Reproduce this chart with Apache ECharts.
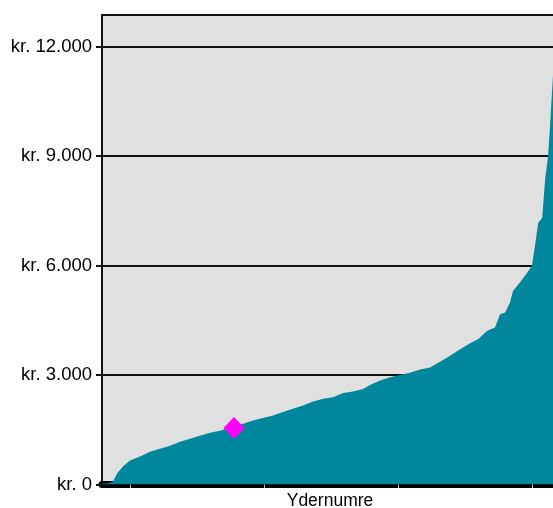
<!DOCTYPE html>
<html>
<head>
<meta charset="utf-8">
<script src="https://cdn.jsdelivr.net/npm/echarts@6/dist/echarts.min.js"></script>
<style>html,body{margin:0;padding:0;background:#fff}#c{width:553px;height:508px}</style>
</head>
<body>
<div id="c"></div>
<script>
// Rank of member (sorted), and amount in kr.
var ranks = [0, 3, 4.1, 5.6, 7.8, 10.4, 14.2, 17.9, 21.6, 25.4, 29.1, 32.8, 36.5, 40.3, 44.0, 47.7,
  52.6, 56.3, 60.0, 63.8, 67.5, 71.2, 74.9, 78.7, 82.4, 86.1, 89.9, 93.6, 97.3, 99.9,
  103.7, 107.4, 111.1, 114.8, 118.6, 122.3, 126.0, 129.8, 133.5, 137.2, 140.2, 143.5,
  146.5, 148.4, 150.3, 152.1, 153.2, 155.8, 158.5, 160.3, 161.4, 162.6, 164.1, 165.2,
  166.3, 167.0, 168.2, 170];
var amounts = [20, 40, 80, 300, 490, 655, 765, 900, 980, 1065, 1170, 1255, 1335, 1420, 1475, 1560,
  1665, 1755, 1820, 1890, 1985, 2075, 2165, 2275, 2350, 2395, 2505, 2550, 2620, 2730,
  2850, 2940, 3000, 3060, 3150, 3210, 3365, 3530, 3710, 3870, 3985, 4210,
  4305, 4670, 4715, 4990, 5305, 5535, 5805, 6005, 6535, 7170, 7315, 8355,
  9000, 9800, 11300, 12500];
var markerRanks = [49.2];
var markerAmounts = [1550];
var yTicks = [0, 3000, 6000, 9000, 12000];
var xTicks = [10.5, 60.5, 110.5, 160.5];
var xName = 'Ydernumre';

function fmt(v) {
  var s = String(Math.round(v));
  return 'kr. ' + s.replace(/\B(?=(\d{3})+(?!\d))/g, '.');
}
var lineData = ranks.map(function (r, i) { return [r, amounts[i]]; });
var markerData = markerRanks.map(function (r, i) { return [r, markerAmounts[i]]; });

var chart = echarts.init(document.getElementById('c'), null, {renderer: 'canvas'});
chart.setOption({
  animation: false,
  grid: {left: 102, top: 15, right: -5, bottom: 23.5, show: true,
    outerBoundsMode: 'none', containLabel: false,
    backgroundColor: '#e0e0e0', borderColor: '#111', borderWidth: 2},
  xAxis: {
    type: 'value', min: 0, max: 170,
    offset: 3.5,
    name: xName, nameLocation: 'middle', nameGap: 4,
    nameTextStyle: {fontFamily: 'Liberation Sans', fontSize: 17.5, color: '#000'},
    axisLine: {show: true, lineStyle: {color: '#000', width: 7}},
    axisTick: {show: true, customValues: xTicks, length: 3.5, lineStyle: {color: '#bbb', width: 1}},
    axisLabel: {show: false},
    splitLine: {show: false}
  },
  yAxis: {
    type: 'value', min: 0, max: 12870,
    axisLine: {show: true, lineStyle: {color: '#111', width: 2}},
    axisTick: {show: true, customValues: yTicks, length: 6, lineStyle: {color: '#111', width: 2}},
    axisLabel: {customValues: yTicks, formatter: fmt, margin: 10,
      fontFamily: 'Liberation Sans', fontSize: 18.5, color: '#000'},
    splitLine: {show: true, lineStyle: {color: '#111', width: 2}}
  },
  series: [{
    type: 'line', data: lineData, symbol: 'none', silent: true,
    lineStyle: {width: 0, color: '#00879e'},
    areaStyle: {color: '#00879e', opacity: 1}
  }, {
    type: 'scatter', data: markerData, symbol: 'diamond', symbolSize: [21, 22],
    itemStyle: {color: '#ff00ff', opacity: 1}, z: 5
  }]
});
</script>
</body>
</html>
